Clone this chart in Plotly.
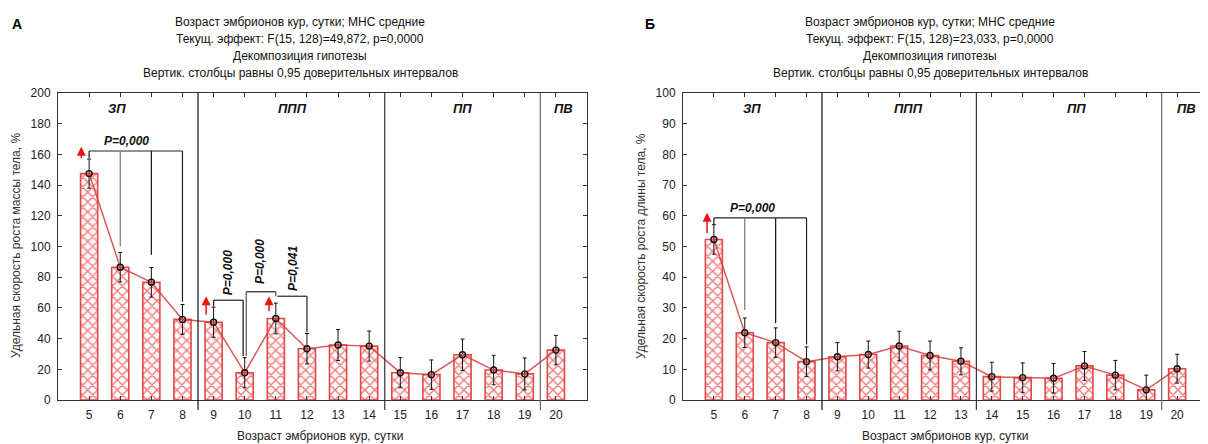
import plotly.graph_objects as go

# ---------------- data ----------------
days = [5, 6, 7, 8, 9, 10, 11, 12, 13, 14, 15, 16, 17, 18, 19, 20]
day_ticks = ["5", "6", "7", "8", "9", "10", "11", "12", "13", "14", "15", "16", "17", "18", "19", "20"]

mass_mean = [147.5, 86.5, 76.7, 52.5, 50.7, 17.8, 53.1, 33.4, 35.8, 35.1, 17.8, 16.5, 29.5, 19.5, 17.0, 32.5]
mass_err = [9.5, 9.6, 9.6, 9.7, 9.8, 9.8, 10.0, 9.9, 10.1, 9.8, 9.8, 9.6, 10.2, 9.6, 10.4, 9.6]

length_mean = [52.3, 21.9, 18.7, 12.5, 14.1, 14.8, 17.6, 14.5, 12.6, 7.6, 7.3, 7.1, 11.1, 8.1, 3.3, 10.2]
length_err = [4.8, 4.8, 4.8, 4.8, 4.6, 4.4, 4.8, 4.7, 4.4, 4.7, 4.8, 4.8, 4.7, 4.8, 4.8, 4.7]

title_left = ["Возраст эмбрионов кур, сутки; МНС средние",
              "Текущ. эффект: F(15, 128)=49,872, p=0,0000",
              "Декомпозиция гипотезы",
              "Вертик. столбцы равны 0,95 доверительных интервалов"]
title_right = ["Возраст эмбрионов кур, сутки; МНС средние",
               "Текущ. эффект: F(15, 128)=23,033, p=0,0000",
               "Декомпозиция гипотезы",
               "Вертик. столбцы равны 0,95 доверительных интервалов"]

periods_left = [("ЗП", 5.9), ("ППП", 11.55), ("ПП", 17.0), ("ПВ", 20.25)]
periods_right = [("ЗП", 6.25), ("ППП", 11.3), ("ПП", 16.75), ("ПВ", 20.3)]
sep_left = [8.5, 14.5, 19.5]
sep_right = [8.5, 13.5, 19.5]

# ---------------- layout constants ----------------
OFF = 8                     # page body margin
W, H = 1208 - OFF, 444 - OFF
FONT = "Liberation Sans, Arial, sans-serif"
RED = "#e80000"
AX = "#333333"

def xp(p):
    return (p - OFF) / W

def yp(p):
    return 1 - (p - OFF) / H

ydom = [yp(400), yp(93)]
xdom_l = [xp(58), xp(587)]
xdom_r = [xp(683), 1.0]

fig = go.Figure()

def add_panel(means, errs, xa, ya):
    fig.add_trace(go.Bar(
        x=days, y=means, width=0.55, xaxis=xa, yaxis=ya, showlegend=False,
        marker=dict(color="white",
                    line=dict(color="#e34848", width=1.6),
                    pattern=dict(shape="x", fgcolor=RED, bgcolor="white",
                                 size=7, solidity=0.38)),
    ))
    fig.add_trace(go.Scatter(
        x=days, y=means, xaxis=xa, yaxis=ya, mode="lines+markers", showlegend=False,
        line=dict(color="rgba(215,60,60,0.85)", width=1.5),
        marker=dict(symbol="circle", size=6, color="rgba(225,90,90,0.35)",
                    line=dict(color="#111111", width=1.4)),
        error_y=dict(type="data", array=errs, visible=True, color="#111111",
                     thickness=1, width=2),
    ))

add_panel(mass_mean, mass_err, "x", "y")
add_panel(length_mean, length_err, "x2", "y2")

axis_common = dict(showline=True, linecolor=AX, linewidth=1, mirror="ticks",
                   ticks="inside", ticklen=4, tickcolor=AX, automargin=False,
                   tickfont=dict(family=FONT, size=12, color="#222222"),
                   showgrid=False, zeroline=False)

fig.update_layout(
    width=W, height=H, autosize=False,
    margin=dict(l=0, r=0, t=0, b=0, pad=0),
    paper_bgcolor="white", plot_bgcolor="white",
    font=dict(family=FONT, size=12, color="#222222"),
    xaxis=dict(domain=xdom_l, range=[4, 21], tickvals=days, ticktext=day_ticks,
               anchor="y", ticklabelstandoff=4, **axis_common),
    yaxis=dict(domain=ydom, range=[0, 200], dtick=20, anchor="x",
               ticklabelstandoff=4, **axis_common),
    xaxis2=dict(domain=xdom_r, range=[4, 21], tickvals=days, ticktext=day_ticks,
                anchor="y2", ticklabelstandoff=4, **axis_common),
    yaxis2=dict(domain=ydom, range=[0, 100], dtick=10, anchor="x2",
                ticklabelstandoff=4, **axis_common),
)

shapes = []
annotations = []

def note(text, x, y, **kw):
    d = dict(text=text, x=x, y=y, showarrow=False, xanchor="center", yanchor="middle")
    d.update(kw)
    annotations.append(d)

# separators between periods
for xs, xr in ((sep_left, "x"), (sep_right, "x2")):
    for i, s in enumerate(xs):
        shapes.append(dict(type="line", xref=xr, yref="paper", x0=s, x1=s,
                           y0=yp(410), y1=ydom[1],
                           line=dict(color=["#111111", "#333333", "#666666"][i], width=1.2)))

# period labels
for labs, xr, yr in ((periods_left, "x", "y domain"), (periods_right, "x2", "y2 domain")):
    for t, xv in labs:
        note(f"<b><i>{t}</i></b>", xv, 0.951, xref=xr, yref=yr,
             font=dict(size=13, color="#111111"))

# titles
for lines, cx in ((title_left, 300), (title_right, 930)):
    for i, t in enumerate(lines):
        note(t, xp(cx), yp(22 + 17 * i), xref="paper", yref="paper",
             font=dict(size=12, color="#111111"))

note("<b>А</b>", xp(17), yp(24), xref="paper", yref="paper", font=dict(size=14, color="#000"))
note("<b>Б</b>", xp(650), yp(24), xref="paper", yref="paper", font=dict(size=14, color="#000"))

# axis titles
note("Возраст эмбрионов кур, сутки", xp(320), yp(436), xref="paper", yref="paper",
     font=dict(size=12))
note("Возраст эмбрионов кур, сутки", xp(945), yp(436), xref="paper", yref="paper",
     font=dict(size=12))
note("Удельная скорость роста массы тела, %", xp(16), yp(246), xref="paper", yref="paper",
     textangle=-90, font=dict(size=12, color="#333333"))
note("Удельная скорость роста длины тела, %", xp(641), yp(246), xref="paper", yref="paper",
     textangle=-90, font=dict(size=12, color="#333333"))

# significance brackets
def bracket(xr, yr, level, pts):
    xs = [p[0] for p in pts]
    shapes.append(dict(type="line", xref=xr, yref=yr, x0=min(xs), x1=max(xs),
                       y0=level, y1=level, line=dict(color="#222222", width=1.2)))
    for xv, yv, c in pts:
        shapes.append(dict(type="line", xref=xr, yref=yr, x0=xv, x1=xv,
                           y0=level, y1=yv, line=dict(color=c, width=1.2)))

bracket("x", "y", 162.2, [(5, 157.6, "#111"), (6, 100, "#777"), (7, 94.6, "#111"), (8, 64, "#222")])
bracket("x", "y", 65, [(9, 61, "#111"), (9.95, 28.6, "#111")])
bracket("x", "y", 70.5, [(10.05, 28.6, "#555"), (11, 67.6, "#555")])
bracket("x", "y", 67.6, [(11.05, 67.6, "#444"), (12, 44, "#222")])
bracket("x2", "y2", 59.3, [(5, 57.2, "#111"), (6, 29.3, "#777"), (7, 25, "#111"), (8, 18.1, "#222")])

pf = dict(size=12, color="#111111")
note("<b><i>P=0,000</i></b>", 6.2, 168.5, xref="x", yref="y", font=pf)
note("<b><i>P=0,000</i></b>", 6.25, 62.7, xref="x2", yref="y2", font=pf)
note("<b><i>P=0,000</i></b>", 9.45, 83, xref="x", yref="y", textangle=-90, font=pf)
note("<b><i>P=0,000</i></b>", 10.5, 90, xref="x", yref="y", textangle=-90, font=pf)
note("<b><i>P=0,041</i></b>", 11.55, 86, xref="x", yref="y", textangle=-90, font=pf)

# red arrows (x, tail, tip)
for xr, yr, xv, tail, tip in (("x", "y", 4.75, 156.5, 165), ("x", "y", 8.76, 54.6, 67.6),
                              ("x", "y", 10.78, 56.8, 67.6), ("x2", "y2", 4.78, 53.9, 61)):
    annotations.append(dict(text="", x=xv, y=tip, ax=xv, ay=tail, xref=xr, yref=yr,
                            axref=xr, ayref=yr, showarrow=True, arrowhead=2,
                            arrowsize=1.2, arrowwidth=1.5, arrowcolor="#ee1111"))

fig.update_layout(shapes=shapes, annotations=annotations)
fig.write_html("out.html")
